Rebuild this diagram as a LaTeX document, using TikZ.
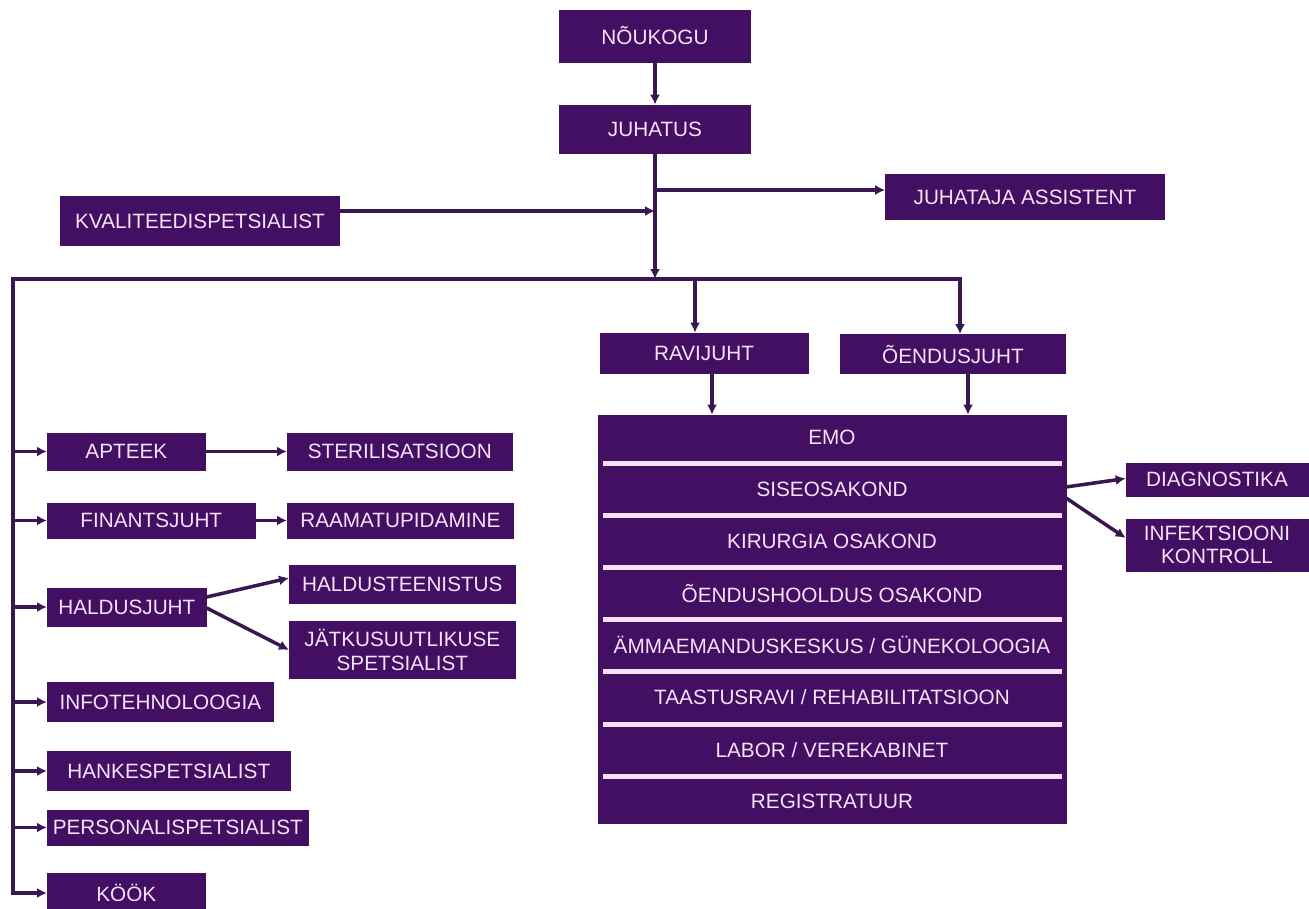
\documentclass[tikz,border=0pt]{standalone}
\usepackage{fontspec}
\setmainfont{Liberation Sans}
\usepackage{tikz}
\usetikzlibrary{arrows.meta,positioning}

\definecolor{lilla}{HTML}{420F63}
\definecolor{joon}{HTML}{3A1752}
\definecolor{roosa}{HTML}{F6E2F6}

\begin{document}
\begin{tikzpicture}[
  x=0.02cm, y=-0.02cm,
  font=\fontsize{11.8}{13.5}\selectfont,
  box/.style={fill=lilla, draw=lilla, text=roosa, align=center, inner sep=0pt},
  rida/.style={text=roosa, inner sep=0pt},
  line/.style={draw=joon, line width=2pt},
  arr/.style={line, -{Latex[length=2mm,width=2mm]}},
  arr2/.style={line, {Latex[length=2mm,width=2mm]}-{Latex[length=2mm,width=2mm]}}
]
\useasboundingbox (0,0) rectangle (1309,909);
% juhtkond
\node[box, minimum width=3.82cm, minimum height=1.04cm] (noukogu) at (655,36) {NÕUKOGU};
\node[box, minimum width=3.82cm, minimum height=0.96cm] (juhatus) at (655,129) {JUHATUS};
\node[box, minimum width=5.58cm, minimum height=0.9cm] (assistent) at (1025,197) {JUHATAJA ASSISTENT};
\node[box, minimum width=5.58cm, minimum height=0.98cm] (kval) at (200,221) {KVALITEEDISPETSIALIST};
\coordinate (haru1) at (655,190);
\coordinate (haru2) at (655,211);
\coordinate (siin) at (655,279);
\coordinate (vasak) at (13,279);
\coordinate (ravi) at (695,279);
\coordinate (parem) at (960,279);
\draw[arr] (noukogu) -- (juhatus);
\draw[arr] (juhatus) -- (siin);
\draw[arr] (haru1) -- (assistent.west |- haru1);
\draw[arr] (kval.east |- haru2) -- (haru2);
% ravi ja oendus
\node[box, minimum width=4.16cm, minimum height=0.8cm] (ravijuht) at (704,353) {RAVIJUHT};
\node[box, minimum width=4.5cm, minimum height=0.78cm] (oendus) at (953,354) {ÕENDUSJUHT};
\node[box, minimum width=9.36cm, minimum height=8.16cm] (osakonnad) at (832,619) {};
\coordinate (ravi2) at (712,0);
\coordinate (oendus2) at (968,0);
\draw[arr] (ravi) -- (ravi |- ravijuht.north);
\draw[arr] (ravi2 |- ravijuht.south) -- (ravi2 |- osakonnad.north);
\draw[arr] (oendus2 |- oendus.south) -- (oendus2 |- osakonnad.north);
\foreach \t [count=\i] in {EMO, SISEOSAKOND, KIRURGIA OSAKOND, ÕENDUSHOOLDUS OSAKOND,
  ÄMMAEMANDUSKESKUS / GÜNEKOLOOGIA, TAASTUSRAVI / REHABILITATSIOON,
  LABOR / VEREKABINET, REGISTRATUUR}
  \node[rida] (r\i) at (832,{437+52.1*(\i-1)}) {\t};
\foreach \i in {1,...,7}
  \draw[draw=roosa, line width=0.1cm] (603,{411.4+52.1*\i}) -- (1062,{411.4+52.1*\i});
\node[box, minimum width=3.64cm, minimum height=0.66cm] (diagnostika) at (1217,479.5) {DIAGNOSTIKA};
\node[box, minimum width=3.64cm, minimum height=1.04cm] (infekts) at (1217,545) {INFEKTSIOONI\\KONTROLL};
\coordinate (sise) at (1066,492);
\draw[arr] ([yshift=0.1cm]sise) -- ([yshift=0.02cm]diagnostika.west);
\draw[arr] ([yshift=-0.12cm]sise) -- ([yshift=0.14cm]infekts.west);
% vasak haru
\node[box, anchor=west, minimum width=3.16cm, minimum height=0.74cm] (apteek) at (47,451.5) {APTEEK};
\node[box, anchor=west, minimum width=4.5cm, minimum height=0.74cm] (steril) at (287,451.5) {STERILISATSIOON};
\node[box, anchor=west, minimum width=4.16cm, minimum height=0.7cm] (finants) at (47,520.5) {FINANTSJUHT};
\node[box, anchor=west, minimum width=4.52cm, minimum height=0.7cm] (raamat) at (287,520.5) {RAAMATUPIDAMINE};
\node[box, anchor=west, minimum width=3.18cm, minimum height=0.76cm] (haldus) at (47,607) {HALDUSJUHT};
\node[box, anchor=west, minimum width=4.52cm, minimum height=0.76cm] (haldteen) at (289,584) {HALDUSTEENISTUS};
\node[box, anchor=west, minimum width=4.52cm, minimum height=1.14cm] (jatkus) at (289,650) {JÄTKUSUUTLIKUSE\\SPETSIALIST};
\node[box, anchor=west, minimum width=4.52cm, minimum height=0.78cm] (info) at (47,702) {INFOTEHNOLOOGIA};
\node[box, anchor=west, minimum width=4.86cm, minimum height=0.78cm] (hanke) at (47,771) {HANKESPETSIALIST};
\node[box, anchor=west, minimum width=5.22cm, minimum height=0.7cm] (personal) at (47,827.5) {PERSONALISPETSIALIST};
\node[box, anchor=west, minimum width=3.16cm, minimum height=0.8cm] (kook) at (47,893) {KÖÖK};
\draw[arr2] (kook.west) -| (vasak) -- (parem) -- (parem |- oendus.north);
\foreach \n in {apteek, finants, haldus, info, hanke, personal}
  \draw[arr] (vasak |- \n.west) -- (\n.west);
\draw[arr] (apteek) -- (steril);
\draw[arr] (finants) -- (raamat);
\draw[arr] ([yshift=0.2cm]haldus.east) -- ([yshift=0.12cm]haldteen.west);
\draw[arr] ([yshift=-0.02cm]haldus.east) -- (jatkus.west);
\end{tikzpicture}
\end{document}
